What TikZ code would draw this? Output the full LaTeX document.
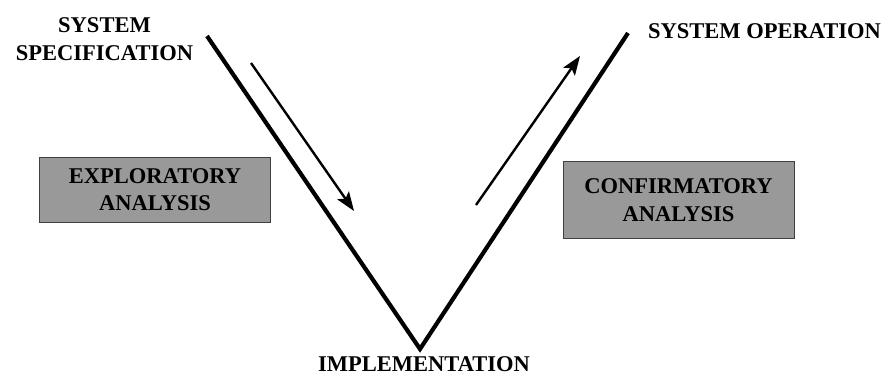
\documentclass[tikz,border=0pt]{standalone}
\usepackage{fontspec}
\setmainfont{Liberation Serif}
\usetikzlibrary{arrows.meta}
\begin{document}
\begin{tikzpicture}[x=1pt,y=-1pt,
  lbl/.style={font=\fontsize{22.5}{27.5}\selectfont\bfseries, align=center, inner sep=0pt},
  phasebox/.style={draw=black!75, line width=0.8pt, fill=black!40, minimum width=231pt, inner sep=0pt},
  vline/.style={line width=4.2pt, line cap=butt},
  flow/.style={line width=2.4pt, -{Stealth[length=19pt,width=14pt,inset=4pt]}}]
  \useasboundingbox (0,0) rectangle (888,385);

  % the V
  \coordinate (spec) at (207,36);
  \coordinate (impl) at (420,349);
  \coordinate (oper) at (628,33);
  \draw[vline] (spec) -- (impl) -- (oper);

  % direction of work along each leg
  \coordinate (dstart) at (251,63);
  \coordinate (dend) at (354,211);
  \coordinate (ustart) at (476,205);
  \coordinate (uend) at (580,56);
  \draw[flow] (dstart) -- (dend);
  \draw[flow] (ustart) -- (uend);

  % stage labels
  \node[lbl] (tspec) at (104.5,39) {SYSTEM\\SPECIFICATION};
  \node[lbl] (toper) at (764.5,31) {SYSTEM OPERATION};
  \node[lbl] (timpl) at (424,364.5) {IMPLEMENTATION};

  % analysis boxes
  \node[phasebox, minimum height=65pt] (expl) at (155,189.5) {};
  \node[lbl] (texpl) at (expl.center) {EXPLORATORY\\ANALYSIS};
  \node[phasebox, minimum height=77pt] (conf) at (678.5,200) {};
  \node[lbl] (tconf) at (conf.center) {CONFIRMATORY\\ANALYSIS};
\end{tikzpicture}
\end{document}
